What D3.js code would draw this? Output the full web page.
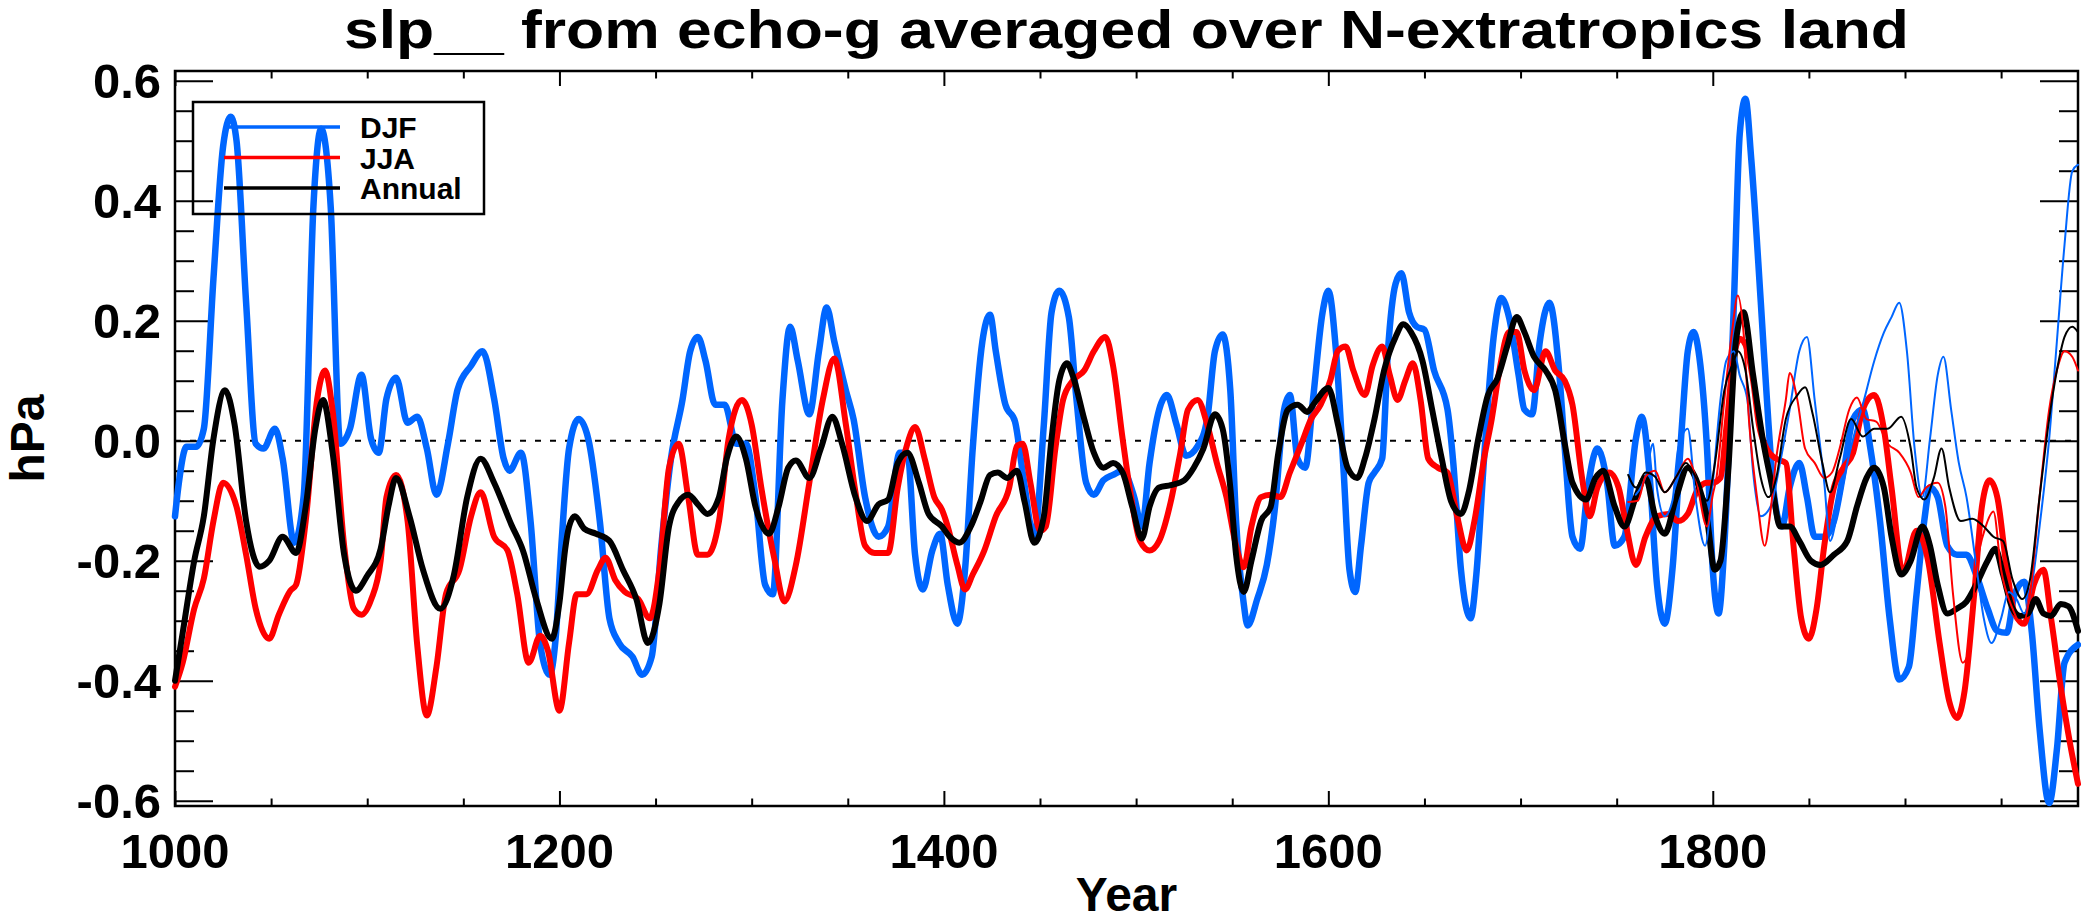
<!DOCTYPE html>
<html>
<head>
<meta charset="utf-8">
<script src="https://cdn.jsdelivr.net/npm/d3@7"></script>
<style>
  body { margin: 0; background: #fff; }
  svg { display: block; }
  text { font-family: "Liberation Sans", Arial, sans-serif; font-weight: bold; fill: #000; }
</style>
</head>
<body>
<svg width="2081" height="923"></svg>
<script>
// values, [year, hPa]
const djf = [[1000,-0.126],[1002,-0.07],[1006,-0.01],[1011,-0.01],[1015,0.02],[1020,0.27],[1025,0.49],[1029,0.54],[1032,0.50],[1037,0.23],[1042,-0.005],[1046,-0.013],[1052,0.02],[1056,-0.03],[1062,-0.17],[1067,-0.09],[1072,0.39],[1076,0.52],[1081,0.39],[1086,-0.005],[1091,0.02],[1097,0.11],[1102,0.003],[1106,-0.02],[1110,0.07],[1115,0.105],[1121,0.03],[1126,0.04],[1131,-0.013],[1136,-0.09],[1142,-0.005],[1147,0.085],[1154,0.125],[1160,0.149],[1166,0.07],[1171,-0.03],[1174,-0.05],[1180,-0.02],[1185,-0.135],[1190,-0.34],[1195,-0.39],[1198,-0.33],[1201,-0.175],[1205,-0.013],[1210,0.036],[1215,0.003],[1221,-0.134],[1226,-0.296],[1231,-0.337],[1238,-0.36],[1243,-0.39],[1248,-0.36],[1253,-0.175],[1258,-0.03],[1264,0.068],[1268,0.149],[1272,0.173],[1276,0.133],[1281,0.06],[1286,0.06],[1292,-0.005],[1297,-0.005],[1302,-0.094],[1307,-0.24],[1311,-0.256],[1316,0.068],[1320,0.19],[1324,0.133],[1330,0.044],[1335,0.149],[1339,0.222],[1343,0.165],[1349,0.084],[1353,0.036],[1359,-0.094],[1366,-0.16],[1371,-0.143],[1377,-0.02],[1381,-0.02],[1385,-0.19],[1389,-0.248],[1394,-0.183],[1398,-0.155],[1402,-0.24],[1407,-0.305],[1411,-0.215],[1415,-0.013],[1420,0.165],[1424,0.21],[1427,0.149],[1432,0.06],[1437,0.032],[1441,-0.053],[1447,-0.16],[1452,0.027],[1456,0.214],[1460,0.25],[1465,0.206],[1469,0.068],[1474,-0.07],[1478,-0.09],[1483,-0.066],[1488,-0.057],[1493,-0.05],[1499,-0.094],[1503,-0.143],[1507,-0.037],[1512,0.052],[1516,0.076],[1521,0.027],[1526,-0.025],[1532,-0.009],[1537,0.036],[1541,0.149],[1545,0.177],[1549,0.084],[1552,-0.134],[1556,-0.272],[1558,-0.308],[1563,-0.264],[1568,-0.207],[1572,-0.118],[1577,0.052],[1580,0.076],[1584,-0.03],[1588,-0.045],[1592,0.068],[1597,0.214],[1600,0.25],[1604,0.149],[1608,-0.053],[1611,-0.215],[1614,-0.252],[1617,-0.175],[1621,-0.07],[1624,-0.053],[1628,-0.03],[1631,0.149],[1635,0.262],[1638,0.279],[1642,0.214],[1646,0.19],[1650,0.185],[1655,0.117],[1662,0.052],[1665,-0.037],[1669,-0.215],[1674,-0.296],[1677,-0.223],[1681,-0.03],[1686,0.173],[1690,0.238],[1694,0.206],[1699,0.109],[1702,0.052],[1706,0.044],[1710,0.165],[1715,0.23],[1720,0.117],[1723,-0.013],[1727,-0.16],[1731,-0.18],[1735,-0.078],[1740,-0.013],[1745,-0.07],[1749,-0.175],[1754,-0.16],[1760,0.003],[1763,0.04],[1767,-0.053],[1771,-0.24],[1775,-0.305],[1779,-0.215],[1784,0.027],[1787,0.149],[1790,0.181],[1793,0.14],[1797,-0.013],[1800,-0.215],[1803,-0.288],[1806,-0.175],[1811,0.23],[1814,0.51],[1817,0.57],[1820,0.47],[1825,0.23],[1829,0.027],[1832,-0.094],[1836,-0.143],[1840,-0.078],[1845,-0.037],[1849,-0.094],[1853,-0.16],[1858,-0.16],[1863,-0.134],[1868,-0.053],[1873,0.036],[1878,0.052],[1882,-0.013],[1887,-0.134],[1892,-0.296],[1897,-0.398],[1902,-0.377],[1906,-0.256],[1910,-0.134],[1913,-0.078],[1917,-0.094],[1922,-0.175],[1927,-0.19],[1932,-0.19],[1937,-0.223],[1943,-0.28],[1948,-0.317],[1953,-0.32],[1957,-0.256],[1962,-0.235],[1966,-0.32],[1970,-0.48],[1975,-0.604],[1979,-0.515],[1983,-0.37],[1990,-0.34]];

const jja = [[1000,-0.41],[1004,-0.37],[1010,-0.28],[1015,-0.23],[1020,-0.134],[1025,-0.07],[1032,-0.11],[1037,-0.19],[1042,-0.28],[1049,-0.33],[1054,-0.29],[1060,-0.25],[1063,-0.24],[1068,-0.134],[1074,0.07],[1078,0.117],[1082,0.05],[1088,-0.175],[1093,-0.28],[1097,-0.29],[1102,-0.265],[1107,-0.2],[1110,-0.094],[1115,-0.057],[1121,-0.134],[1126,-0.34],[1131,-0.458],[1136,-0.377],[1141,-0.255],[1148,-0.215],[1154,-0.126],[1159,-0.086],[1166,-0.16],[1173,-0.183],[1178,-0.255],[1184,-0.37],[1190,-0.325],[1194,-0.35],[1200,-0.45],[1205,-0.337],[1209,-0.256],[1214,-0.256],[1220,-0.215],[1224,-0.195],[1229,-0.232],[1234,-0.252],[1241,-0.264],[1247,-0.296],[1252,-0.215],[1257,-0.045],[1262,-0.005],[1267,-0.094],[1272,-0.19],[1277,-0.19],[1283,-0.134],[1288,0.003],[1295,0.068],[1300,0.027],[1305,-0.078],[1312,-0.2],[1317,-0.268],[1323,-0.207],[1330,-0.07],[1337,0.068],[1343,0.137],[1349,0.027],[1354,-0.086],[1359,-0.175],[1364,-0.187],[1371,-0.187],[1376,-0.078],[1381,-0.005],[1385,0.023],[1390,-0.03],[1395,-0.094],[1399,-0.115],[1402,-0.143],[1407,-0.207],[1411,-0.248],[1415,-0.223],[1421,-0.183],[1427,-0.126],[1434,-0.078],[1438,-0.009],[1441,-0.005],[1445,-0.07],[1450,-0.15],[1453,-0.143],[1458,-0.013],[1462,0.068],[1467,0.1],[1473,0.117],[1478,0.149],[1484,0.173],[1488,0.125],[1493,0.003],[1497,-0.086],[1502,-0.167],[1507,-0.183],[1512,-0.167],[1518,-0.102],[1523,-0.02],[1527,0.052],[1532,0.068],[1537,0.027],[1542,-0.037],[1547,-0.094],[1552,-0.175],[1556,-0.211],[1560,-0.143],[1565,-0.094],[1570,-0.09],[1575,-0.094],[1580,-0.053],[1586,-0.005],[1591,0.036],[1596,0.06],[1601,0.1],[1605,0.15],[1609,0.157],[1613,0.117],[1619,0.076],[1623,0.125],[1628,0.157],[1632,0.109],[1636,0.068],[1640,0.1],[1644,0.129],[1648,0.068],[1652,-0.03],[1657,-0.045],[1662,-0.053],[1667,-0.126],[1672,-0.183],[1676,-0.134],[1681,-0.03],[1685,0.036],[1689,0.117],[1694,0.181],[1698,0.181],[1702,0.117],[1707,0.084],[1713,0.149],[1718,0.117],[1723,0.1],[1727,0.06],[1732,-0.062],[1736,-0.126],[1740,-0.078],[1746,-0.053],[1751,-0.078],[1755,-0.143],[1760,-0.207],[1765,-0.16],[1771,-0.126],[1777,-0.122],[1782,-0.134],[1787,-0.122],[1792,-0.082],[1797,-0.07],[1800,-0.07],[1804,-0.062],[1807,0.02],[1811,0.14],[1814,0.17],[1817,0.16],[1821,0.1],[1824,0.027],[1828,-0.013],[1833,-0.03],[1838,-0.037],[1842,-0.175],[1846,-0.296],[1850,-0.33],[1854,-0.28],[1858,-0.175],[1863,-0.078],[1868,-0.045],[1873,-0.02],[1878,0.052],[1884,0.076],[1889,0.02],[1893,-0.078],[1899,-0.22],[1906,-0.15],[1912,-0.2],[1918,-0.337],[1923,-0.434],[1927,-0.462],[1931,-0.417],[1936,-0.256],[1940,-0.11],[1944,-0.066],[1948,-0.094],[1953,-0.215],[1957,-0.288],[1962,-0.305],[1967,-0.24],[1972,-0.215],[1976,-0.296],[1981,-0.41],[1986,-0.507],[1990,-0.572]];

const annual = [[1000,-0.40],[1004,-0.32],[1010,-0.2],[1015,-0.126],[1020,0.003],[1026,0.084],[1031,0.027],[1037,-0.134],[1044,-0.21],[1049,-0.2],[1056,-0.16],[1063,-0.187],[1068,-0.11],[1073,0.02],[1077,0.068],[1082,-0.02],[1088,-0.19],[1094,-0.25],[1100,-0.225],[1107,-0.18],[1111,-0.11],[1115,-0.062],[1122,-0.126],[1129,-0.215],[1138,-0.28],[1145,-0.225],[1152,-0.094],[1159,-0.03],[1166,-0.07],[1175,-0.14],[1181,-0.183],[1188,-0.265],[1196,-0.33],[1200,-0.27],[1203,-0.18],[1205,-0.143],[1208,-0.126],[1213,-0.147],[1219,-0.155],[1226,-0.167],[1233,-0.215],[1240,-0.264],[1246,-0.337],[1252,-0.272],[1257,-0.143],[1262,-0.102],[1267,-0.09],[1272,-0.106],[1277,-0.122],[1283,-0.094],[1287,-0.03],[1292,0.007],[1297,-0.03],[1302,-0.11],[1309,-0.155],[1314,-0.11],[1319,-0.045],[1323,-0.033],[1330,-0.062],[1336,-0.013],[1342,0.04],[1347,-0.005],[1354,-0.094],[1360,-0.134],[1366,-0.106],[1371,-0.098],[1376,-0.037],[1381,-0.02],[1387,-0.07],[1392,-0.122],[1399,-0.143],[1403,-0.16],[1408,-0.17],[1414,-0.143],[1419,-0.102],[1424,-0.057],[1428,-0.053],[1433,-0.062],[1438,-0.05],[1442,-0.102],[1447,-0.17],[1452,-0.126],[1456,0.003],[1460,0.1],[1464,0.129],[1467,0.109],[1473,0.036],[1478,-0.02],[1483,-0.045],[1488,-0.037],[1493,-0.053],[1498,-0.11],[1503,-0.163],[1507,-0.11],[1512,-0.078],[1518,-0.074],[1525,-0.066],[1530,-0.045],[1535,-0.013],[1541,0.044],[1545,0.02],[1549,-0.078],[1552,-0.19],[1556,-0.252],[1560,-0.2],[1565,-0.134],[1570,-0.11],[1574,-0.02],[1579,0.052],[1584,0.06],[1589,0.048],[1593,0.064],[1600,0.088],[1605,0.027],[1610,-0.045],[1615,-0.062],[1619,-0.03],[1624,0.036],[1629,0.117],[1635,0.173],[1639,0.194],[1643,0.181],[1649,0.133],[1654,0.052],[1659,-0.03],[1664,-0.102],[1669,-0.122],[1673,-0.086],[1678,0.003],[1683,0.076],[1688,0.104],[1693,0.157],[1698,0.206],[1702,0.181],[1707,0.14],[1713,0.117],[1718,0.084],[1723,-0.005],[1727,-0.07],[1734,-0.098],[1739,-0.062],[1743,-0.05],[1749,-0.11],[1754,-0.143],[1760,-0.094],[1765,-0.062],[1770,-0.126],[1775,-0.155],[1781,-0.094],[1787,-0.045],[1792,-0.07],[1797,-0.13],[1801,-0.215],[1804,-0.2],[1808,-0.053],[1812,0.165],[1816,0.214],[1821,0.109],[1826,0.003],[1831,-0.078],[1835,-0.143],[1840,-0.143],[1845,-0.167],[1851,-0.2],[1856,-0.207],[1863,-0.19],[1870,-0.167],[1875,-0.11],[1880,-0.062],[1884,-0.045],[1889,-0.078],[1893,-0.16],[1898,-0.223],[1903,-0.2],[1909,-0.143],[1913,-0.175],[1917,-0.24],[1922,-0.288],[1927,-0.28],[1932,-0.268],[1937,-0.24],[1943,-0.2],[1947,-0.18],[1951,-0.223],[1956,-0.28],[1960,-0.292],[1964,-0.288],[1968,-0.264],[1972,-0.288],[1976,-0.292],[1981,-0.272],[1985,-0.276],[1990,-0.317]];

// second, shorter set drawn thin
const djfThin = [[1760,-0.09],[1765,-0.06],[1769,-0.005],[1771,-0.08],[1775,-0.126],[1779,-0.1],[1782,-0.013],[1787,0.02],[1791,-0.094],[1796,-0.175],[1800,-0.07],[1804,0.068],[1807,0.133],[1811,0.149],[1814,0.109],[1818,0.068],[1821,-0.053],[1825,-0.126],[1830,-0.11],[1835,-0.037],[1840,0.052],[1845,0.149],[1849,0.173],[1853,0.068],[1858,-0.07],[1861,-0.167],[1865,-0.118],[1870,-0.037],[1875,0.027],[1878,0.06],[1884,0.133],[1889,0.18],[1893,0.206],[1897,0.23],[1901,0.149],[1905,-0.013],[1909,-0.094],[1913,0.003],[1917,0.109],[1920,0.14],[1924,0.052],[1928,-0.037],[1932,-0.094],[1937,-0.207],[1941,-0.296],[1945,-0.337],[1950,-0.296],[1954,-0.252],[1958,-0.264],[1962,-0.288],[1966,-0.24],[1970,-0.143],[1975,0.003],[1979,0.165],[1983,0.327],[1987,0.449],[1990,0.46]];

const jjaThin = [[1756,-0.102],[1761,-0.1],[1765,-0.06],[1770,-0.05],[1775,-0.086],[1781,-0.06],[1787,-0.03],[1791,-0.06],[1797,-0.143],[1800,-0.09],[1802,-0.06],[1806,0.068],[1810,0.181],[1813,0.242],[1816,0.181],[1819,0.027],[1823,-0.094],[1827,-0.175],[1830,-0.118],[1833,-0.03],[1838,0.068],[1840,0.113],[1844,0.068],[1848,-0.013],[1853,-0.037],[1858,-0.062],[1862,-0.053],[1866,-0.013],[1871,0.052],[1875,0.072],[1880,0.036],[1885,0.032],[1891,-0.005],[1897,-0.02],[1903,-0.053],[1907,-0.094],[1911,-0.078],[1917,-0.07],[1921,-0.11],[1925,-0.256],[1930,-0.37],[1933,-0.353],[1937,-0.215],[1942,-0.143],[1946,-0.118],[1950,-0.215],[1956,-0.28],[1961,-0.308],[1965,-0.256],[1970,-0.094],[1975,0.052],[1979,0.117],[1983,0.149],[1987,0.14],[1990,0.117]];

const annualThin = [[1756,-0.057],[1760,-0.078],[1765,-0.053],[1770,-0.06],[1775,-0.086],[1781,-0.06],[1786,-0.037],[1791,-0.06],[1797,-0.1],[1801,-0.04],[1806,0.084],[1811,0.133],[1813,0.149],[1817,0.117],[1821,0.02],[1825,-0.062],[1829,-0.094],[1833,-0.062],[1838,0.036],[1844,0.076],[1848,0.089],[1852,0.044],[1857,-0.037],[1861,-0.086],[1866,-0.03],[1872,0.036],[1878,0.007],[1884,0.02],[1891,0.02],[1898,0.04],[1903,-0.013],[1906,-0.078],[1910,-0.098],[1915,-0.062],[1919,-0.013],[1923,-0.078],[1929,-0.134],[1935,-0.13],[1941,-0.143],[1946,-0.16],[1951,-0.167],[1956,-0.232],[1961,-0.264],[1965,-0.232],[1970,-0.094],[1975,0.036],[1979,0.117],[1983,0.173],[1987,0.19],[1990,0.181]];

const xMajor = [1000, 1200, 1400, 1600, 1800];
const xMinor = d3.range(1050, 1991, 50).filter(v => v % 200 !== 0);
const yMajor = [-0.6, -0.4, -0.2, 0.0, 0.2, 0.4, 0.6];
const yMinor = [-0.55, -0.5, -0.45, -0.35, -0.3, -0.25, -0.15, -0.1, -0.05, 0.05, 0.1, 0.15, 0.25, 0.3, 0.35, 0.45, 0.5, 0.55];
const legendNames = ['DJF', 'JJA', 'Annual'];
const colors = ['#0066ff', '#ff0000', '#000000'];

const svg = d3.select('svg');
const pLeft = 175, pRight = 2078, pTop = 71, pBottom = 806;

const x = d3.scaleLinear().domain([1000, 1990]).range([pLeft, pRight]);
const y = d3.scaleLinear().domain([-0.6088, 0.6162]).range([pBottom, pTop]);

// ticks, all pointing inwards
const tickAxis = (axis, vals, size) => g => {
  g.call(axis.tickValues(vals).tickSize(size).tickFormat(''));
  g.select('.domain').remove();
  g.selectAll('line').attr('stroke', '#000').attr('stroke-width', 2);
};
const addTicks = (axis, pos, majors, minors, len) => {
  svg.append('g').attr('transform', pos).call(tickAxis(axis(), majors, -len));
  svg.append('g').attr('transform', pos).call(tickAxis(axis(), minors, -len / 2));
};
addTicks(() => d3.axisBottom(x), `translate(0,${pBottom})`, xMajor, xMinor, 15);
addTicks(() => d3.axisTop(x), `translate(0,${pTop})`, xMajor, xMinor, 15);
addTicks(() => d3.axisLeft(y), `translate(${pLeft},0)`, yMajor, yMinor, 38);
addTicks(() => d3.axisRight(y), `translate(${pRight},0)`, yMajor, yMinor, 38);

svg.append('rect')
  .attr('x', pLeft).attr('y', pTop)
  .attr('width', pRight - pLeft).attr('height', pBottom - pTop)
  .attr('fill', 'none').attr('stroke', '#000').attr('stroke-width', 2.5);

// tick labels (plain hyphen for negatives, as in the original)
svg.append('g').selectAll('text').data(xMajor).join('text')
  .attr('x', d => x(d)).attr('y', 868)
  .attr('text-anchor', 'middle').style('font-size', '49px')
  .text(d => d);
svg.append('g').selectAll('text').data(yMajor).join('text')
  .attr('x', 161).attr('y', d => y(d)).attr('dy', '0.36em')
  .attr('text-anchor', 'end').style('font-size', '49px')
  .text(d => d.toFixed(1));

// zero line
svg.append('line')
  .attr('x1', pLeft).attr('x2', pRight)
  .attr('y1', y(0)).attr('y2', y(0))
  .attr('stroke', '#000').attr('stroke-width', 2)
  .attr('stroke-dasharray', '6,9');

const line = d3.line()
  .x(d => x(d[0])).y(d => y(d[1]))
  .curve(d3.curveMonotoneX);

const plot = svg.append('g');
const series = [
  [djf, colors[0], 6.5], [jja, colors[1], 6], [annual, colors[2], 6],
  [djfThin, colors[0], 2], [jjaThin, colors[1], 2], [annualThin, colors[2], 2]
];
series.forEach(([data, c, w]) => {
  plot.append('path').datum(data)
    .attr('d', line)
    .attr('fill', 'none').attr('stroke', c).attr('stroke-width', w)
    .attr('stroke-linejoin', 'round').attr('stroke-linecap', 'round');
});

// legend
const lg = svg.append('g');
lg.append('rect')
  .attr('x', 193).attr('y', 102).attr('width', 291).attr('height', 112)
  .attr('fill', 'none').attr('stroke', '#000').attr('stroke-width', 2.5);
legendNames.forEach((name, i) => {
  const ly = 127 + i * 30.5;
  lg.append('line')
    .attr('x1', 224).attr('x2', 340).attr('y1', ly).attr('y2', ly)
    .attr('stroke', colors[i]).attr('stroke-width', 3.5);
  lg.append('text')
    .attr('x', 360).attr('y', ly + 11)
    .style('font-size', '30px')
    .text(name);
});

// titles
svg.append('text')
  .attr('x', (pLeft + pRight) / 2).attr('y', 48)
  .attr('text-anchor', 'middle')
  .attr('textLength', 1565).attr('lengthAdjust', 'spacingAndGlyphs')
  .style('font-size', '54px')
  .text('slp__ from echo-g averaged over N-extratropics land');
svg.append('text')
  .attr('x', (pLeft + pRight) / 2).attr('y', 911)
  .attr('text-anchor', 'middle')
  .style('font-size', '48px')
  .text('Year');
svg.append('text')
  .attr('transform', `translate(44,${(pTop + pBottom) / 2}) rotate(-90)`)
  .attr('text-anchor', 'middle')
  .style('font-size', '48px')
  .text('hPa');
</script>
</body>
</html>
